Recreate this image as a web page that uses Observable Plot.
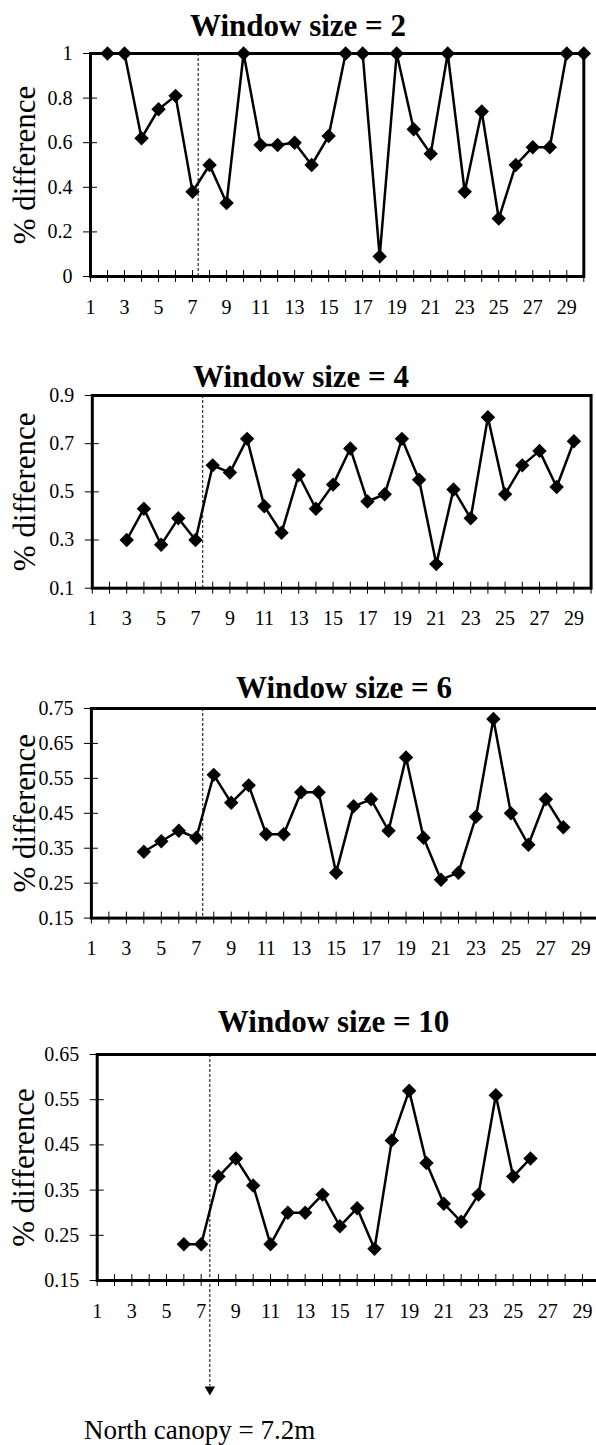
<!DOCTYPE html>
<html>
<head>
<meta charset="utf-8">
<script src="https://cdn.jsdelivr.net/npm/d3@7"></script>
<script src="https://cdn.jsdelivr.net/npm/@observablehq/plot@0.6"></script>
<style>
  html, body { margin: 0; padding: 0; background: #fff; overflow: hidden; }
  #page { position: relative; width: 596px; height: 1445px; overflow: hidden; background: #fff;
          font-family: "Liberation Serif", "Times New Roman", serif; color: #000; }
  .panel { position: absolute; left: 0; z-index: 1; width: 640px; }
  .panel svg { max-width: none !important; display: block; }
  .panel svg, .panel svg text, .panel svg tspan { font-family: "Liberation Serif", "Times New Roman", serif !important; }
  .title { position: absolute; font-weight: bold; font-size: 31px; line-height: 31px;
           white-space: nowrap; transform: translateX(-50%); z-index: 2; }
  .caption { position: absolute; font-size: 27px; line-height: 27px; white-space: nowrap; z-index: 2; }
</style>
</head>
<body>
<div id="page"></div>
<script>
// ---------- data ----------
const xCategories = [1,2,3,4,5,6,7,8,9,10,11,12,13,14,15,16,17,18,19,20,21,22,23,24,25,26,27,28,29,30];
const xTickLabels = [1,3,5,7,9,11,13,15,17,19,21,23,25,27,29];

const titles = ["Window size = 2", "Window size = 4", "Window size = 6", "Window size = 10"];
const yLabel = "% difference";
const captionText = "North canopy = 7.2m";

const w2Positions = [2,3,4,5,6,7,8,9,10,11,12,13,14,15,16,17,18,19,20,21,22,23,24,25,26,27,28,29,30];
const w2Values    = [1,1,0.62,0.75,0.81,0.38,0.50,0.33,1,0.59,0.59,0.60,0.50,0.63,1,1,0.09,1,0.66,0.55,1,0.38,0.74,0.26,0.50,0.58,0.58,1,1];

const w4Positions = [3,4,5,6,7,8,9,10,11,12,13,14,15,16,17,18,19,20,21,22,23,24,25,26,27,28,29];
const w4Values    = [0.30,0.43,0.28,0.39,0.30,0.61,0.58,0.72,0.44,0.33,0.57,0.43,0.53,0.68,0.46,0.49,0.72,0.55,0.20,0.51,0.39,0.81,0.49,0.61,0.67,0.52,0.71];

const w6Positions = [4,5,6,7,8,9,10,11,12,13,14,15,16,17,18,19,20,21,22,23,24,25,26,27,28];
const w6Values    = [0.34,0.37,0.40,0.38,0.56,0.48,0.53,0.39,0.39,0.51,0.51,0.28,0.47,0.49,0.40,0.61,0.38,0.26,0.28,0.44,0.72,0.45,0.36,0.49,0.41];

const w10Positions = [6,7,8,9,10,11,12,13,14,15,16,17,18,19,20,21,22,23,24,25,26];
const w10Values    = [0.23,0.23,0.38,0.42,0.36,0.23,0.30,0.30,0.34,0.27,0.31,0.22,0.46,0.57,0.41,0.32,0.28,0.34,0.56,0.38,0.42];

const yTicks2  = [0, 0.2, 0.4, 0.6, 0.8, 1];
const yTicks4  = [0.1, 0.3, 0.5, 0.7, 0.9];
const yTicks6  = [0.15, 0.25, 0.35, 0.45, 0.55, 0.65, 0.75];
const yTicks10 = [0.15, 0.25, 0.35, 0.45, 0.55, 0.65];

// position of the hand-drawn canopy line in each panel
const canopyLine = [7.33, 7.42, 7.37, 7.5];

// ---------- layout ----------
const panels = [
  {x: w2Positions,  y: w2Values,  yTicks: yTicks2,  domain: [0, 1],
   top: 39,  width: 596, mT: 14, plotH: 223,   mB: 50,  mL: 90,   mR: 12.7,
   titleX: 298, titleTop: 9.5},
  {x: w4Positions,  y: w4Values,  yTicks: yTicks4,  domain: [0.1, 0.9],
   top: 381, width: 596, mT: 14, plotH: 192.7, mB: 50,  mL: 91.8, mR: 5.4,
   titleX: 301, titleTop: 360.5},
  {x: w6Positions,  y: w6Values,  yTicks: yTicks6,  domain: [0.15, 0.75],
   top: 693.7, width: 620, mT: 14, plotH: 209.6, mB: 50, mL: 90.9, mR: 22.2,
   titleX: 344, titleTop: 672},
  {x: w10Positions, y: w10Values, yTicks: yTicks10, domain: [0.15, 0.65],
   top: 1040, width: 620, mT: 14, plotH: 226, mB: 165, mL: 96.7, mR: 20.7,
   titleX: 333.6, titleTop: 1005.5, arrow: true}
];

const page = document.getElementById("page");
const serif = "'Liberation Serif', 'Times New Roman', serif";

panels.forEach((p, i) => {
  const data = p.x.map((x, k) => ({x, y: p.y[k]}));
  const marks = [
    Plot.ruleX([canopyLine[i]], {x: d => d, stroke: "#000", strokeWidth: 1, strokeDasharray: "3,2",
                                 insetBottom: p.arrow ? -106 : 0}),
    Plot.frame({stroke: "#000", strokeWidth: 3}),
    Plot.axisX(xCategories, {anchor: "bottom", tickSize: 6, tickFormat: () => "", label: null, stroke: "#000"}),
    Plot.axisX(xCategories, {anchor: "bottom", tickSize: -6, tickFormat: () => "", label: null, stroke: "#000"}),
    Plot.axisX(xTickLabels, {anchor: "bottom", tickSize: 0, tickPadding: 23, tickFormat: d => String(d),
                             label: null, fill: "#000", fontSize: 20, fontFamily: serif}),
    Plot.axisY(p.yTicks, {anchor: "left", tickSize: 7, tickPadding: 11, tickFormat: d => String(d),
                          label: null, stroke: "#000", fill: "#000", fontSize: 20, fontFamily: serif}),
    Plot.axisY(p.yTicks, {anchor: "left", tickSize: -7, tickFormat: () => "", label: null, stroke: "#000"}),
    Plot.text([yLabel], {text: d => d, frameAnchor: "left", textAnchor: "middle", rotate: -90,
                         lineAnchor: "bottom", dx: 34 - p.mL, fontSize: 31, fill: "#000", fontFamily: serif}),
    Plot.line(data, {x: "x", y: "y", stroke: "#000", strokeWidth: 2.5}),
    Plot.dot(data, {x: "x", y: "y", symbol: "diamond2", r: 6.5, fill: "#000", stroke: "none"})
  ];
  if (p.arrow) {
    marks.push(Plot.dot([canopyLine[i]], {x: d => d, frameAnchor: "bottom", symbol: "triangle2", r: 5,
                                          rotate: 180, dy: 109, fill: "#000", stroke: "none"}));
  }
  const chart = Plot.plot({
    width: p.width,
    height: p.mT + p.plotH + p.mB,
    marginLeft: p.mL, marginRight: p.mR, marginTop: p.mT, marginBottom: p.mB,
    style: {fontFamily: serif, fontSize: "20px", maxWidth: "none",
            background: "transparent", color: "#000", overflow: "visible"},
    x: {type: "linear", domain: [1, 30], axis: null, label: null},
    y: {type: "linear", domain: p.domain, axis: null, label: null},
    marks
  });
  const holder = document.createElement("div");
  holder.className = "panel";
  holder.style.top = p.top + "px";
  holder.appendChild(chart);
  page.appendChild(holder);

  const t = document.createElement("div");
  t.className = "title";
  t.textContent = titles[i];
  t.style.left = p.titleX + "px";
  t.style.top = p.titleTop + "px";
  page.appendChild(t);
});

const cap = document.createElement("div");
cap.className = "caption";
cap.textContent = captionText;
cap.style.left = "84px";
cap.style.top = "1417.4px";
page.appendChild(cap);
</script>
</body>
</html>
